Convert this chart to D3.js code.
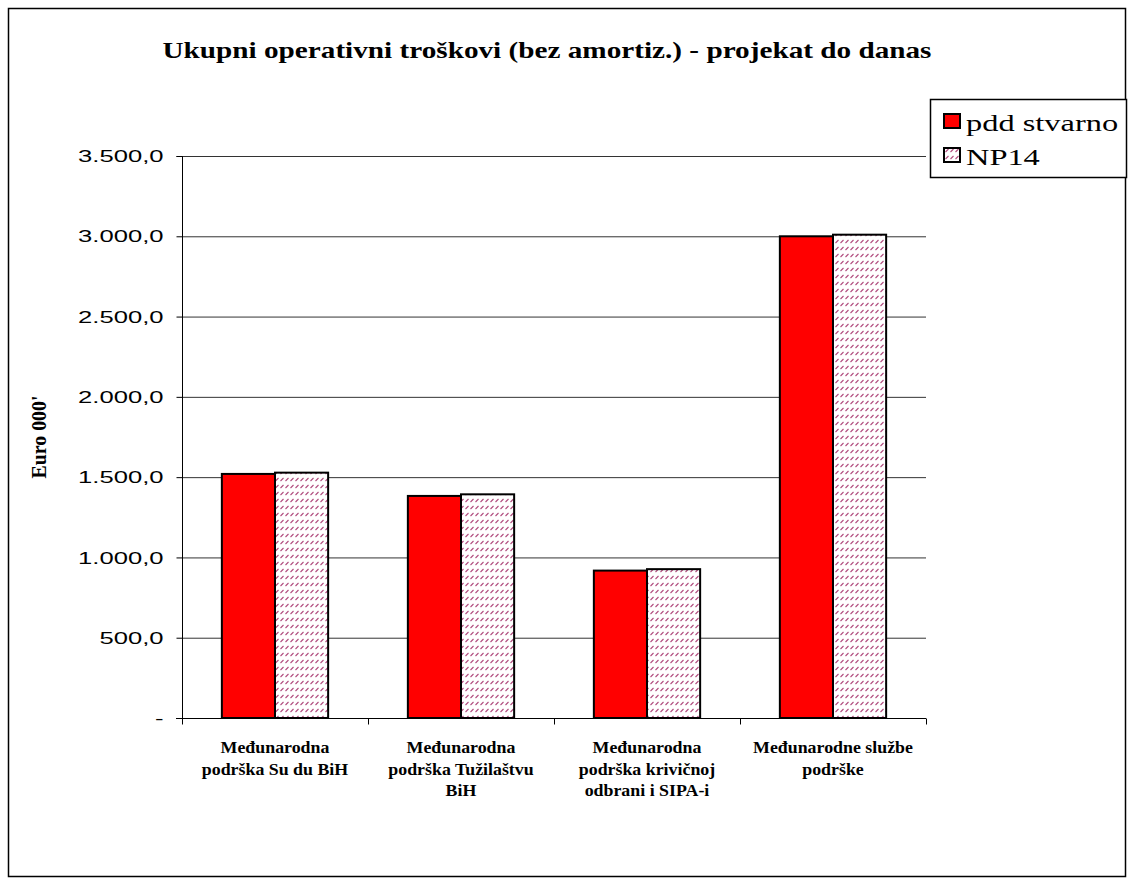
<!DOCTYPE html>
<html><head><meta charset="utf-8">
<script src="https://cdn.jsdelivr.net/npm/d3@7"></script>
<style>body{margin:0;background:#fff}svg{display:block}
.serif{font-family:"Liberation Serif","DejaVu Serif",serif}
.sans{font-family:"Liberation Sans",Arial,sans-serif}
</style>
</head><body>
<svg id="c" width="1133" height="884"></svg>
<script>
const categories = [
  ["Međunarodna", "podrška Su du BiH"],
  ["Međunarodna", "podrška Tužilaštvu", "BiH"],
  ["Međunarodna", "podrška krivičnoj", "odbrani i SIPA-i"],
  ["Međunarodne službe", "podrške"]
];
const seriesNames = ["pdd stvarno", "NP14"];
const pddStvarno = [1520, 1383, 918, 3000];
const np14 = [1528, 1393, 927, 3010];
const yTicks = [0, 500, 1000, 1500, 2000, 2500, 3000, 3500];
const titleText = "Ukupni operativni troškovi (bez amortiz.) - projekat do danas";
const yTitle = "Euro 000'";

const svg = d3.select("#c");
function stretch(sel, k){
  sel.each(function(){
    const w = this.getComputedTextLength();
    d3.select(this).attr("textLength", w*k).attr("lengthAdjust","spacingAndGlyphs");
  });
}
const defs = svg.append("defs");
const pat = defs.append("pattern").attr("id","hatch").attr("patternUnits","userSpaceOnUse")
  .attr("width",5).attr("height",7);
pat.append("rect").attr("width",5).attr("height",7).attr("fill","#fff");
pat.append("line").attr("x1",0.5).attr("y1",5).attr("x2",3.5).attr("y2",2)
  .attr("stroke","#b04a7c").attr("stroke-width",1.1);

// outer border
svg.append("rect").attr("x",8.5).attr("y",8.5).attr("width",1117).attr("height",868)
  .attr("fill","none").attr("stroke","#000").attr("stroke-width",1.5);

const m = {l:182, r:926, t:156, b:718};
const x0 = d3.scaleBand().domain(d3.range(categories.length)).range([m.l, m.r]).paddingInner(0).paddingOuter(0);
const x1 = d3.scaleBand().domain([0,1]).range([0, x0.bandwidth()]).paddingInner(0).paddingOuter(0.75);
const y = d3.scaleLinear().domain([0,3500]).range([m.b, m.t]);

// gridlines
svg.append("g").selectAll("line").data(yTicks.filter(d=>d>0)).join("line")
  .attr("x1",m.l).attr("x2",m.r).attr("y1",d=>y(d)+0.5).attr("y2",d=>y(d)+0.5)
  .attr("stroke","#333").attr("stroke-width",1);

// bars
const fmtSeries = [pddStvarno, np14];
const g = svg.append("g");
categories.forEach((c,i)=>{
  fmtSeries.forEach((s,j)=>{
    g.append("rect").attr("x",x0(i)+x1(j)).attr("y",y(s[i]))
      .attr("width",x1.bandwidth()).attr("height",y(0)-y(s[i]))
      .attr("fill", j===0 ? "#ff0000" : "url(#hatch)")
      .attr("stroke","#000").attr("stroke-width",2);
  });
});

// y axis
const fmt = d => d===0 ? "-" : d3.format(",.1f")(d).replace(/,/g,"#").replace(".",",").replace(/#/g,".");
const yAxis = d3.axisLeft(y).tickValues(yTicks).tickSize(6).tickPadding(13).tickFormat(fmt);
const ya = svg.append("g").attr("transform",`translate(${m.l+0.5},0)`).call(yAxis);
ya.attr("font-family",null).attr("font-size",null);
ya.select(".domain").attr("stroke","#000").attr("d",`M-6,${m.t+0.5}H0V${m.b+0.5}H-6`);
ya.selectAll(".tick line").attr("stroke","#000");
ya.selectAll(".tick text").attr("class","sans").attr("font-size",16).attr("fill","#000").attr("dy","0.35em");
stretch(ya.selectAll(".tick text"), 1.6);

// x axis
const xa = svg.append("g").attr("transform",`translate(0,${m.b+0.5})`);
xa.append("line").attr("x1",m.l-6).attr("x2",m.r).attr("stroke","#000");
xa.selectAll("line.t").data(d3.range(categories.length+1)).join("line").attr("class","t")
  .attr("x1",i=>m.l+i*x0.step()+0.5).attr("x2",i=>m.l+i*x0.step()+0.5)
  .attr("y1",0).attr("y2",6).attr("stroke","#000");
const lab = svg.append("g").attr("class","serif")
  .attr("font-weight","bold").attr("font-size",17).attr("text-anchor","middle");
categories.forEach((c,i)=>{
  c.forEach((ln,k)=>lab.append("text").attr("x",x0(i)+x0.bandwidth()/2).attr("y",753+k*21.5).text(ln));
});
stretch(lab.selectAll("text"), 1.05);

// title
const tt = svg.append("text").attr("x",547).attr("y",58).attr("text-anchor","middle").attr("class","serif")
  .attr("font-weight","bold").attr("font-size",24).text(titleText);
tt.attr("textLength",769).attr("lengthAdjust","spacingAndGlyphs");

// y title
svg.append("text").attr("transform","translate(46,437) rotate(-90)").attr("text-anchor","middle")
  .attr("class","serif").attr("font-weight","bold")
  .attr("font-size",20).attr("textLength",83).attr("lengthAdjust","spacingAndGlyphs").text(yTitle);

// legend
const lg = svg.append("g");
lg.append("rect").attr("x",930.5).attr("y",99.5).attr("width",196).attr("height",78)
  .attr("fill","#fff").attr("stroke","#000").attr("stroke-width",1.5);
seriesNames.forEach((n,i)=>{
  lg.append("rect").attr("x",944).attr("y",114+i*34).attr("width",16).attr("height",14)
    .attr("fill", i===0 ? "#ff0000" : "url(#hatch)").attr("stroke","#000").attr("stroke-width",2);
  lg.append("text").attr("x",966).attr("y",131+i*34).attr("class","serif").attr("font-size",24).text(n);
});
stretch(lg.selectAll("text"), 1.35);
</script>
</body></html>
